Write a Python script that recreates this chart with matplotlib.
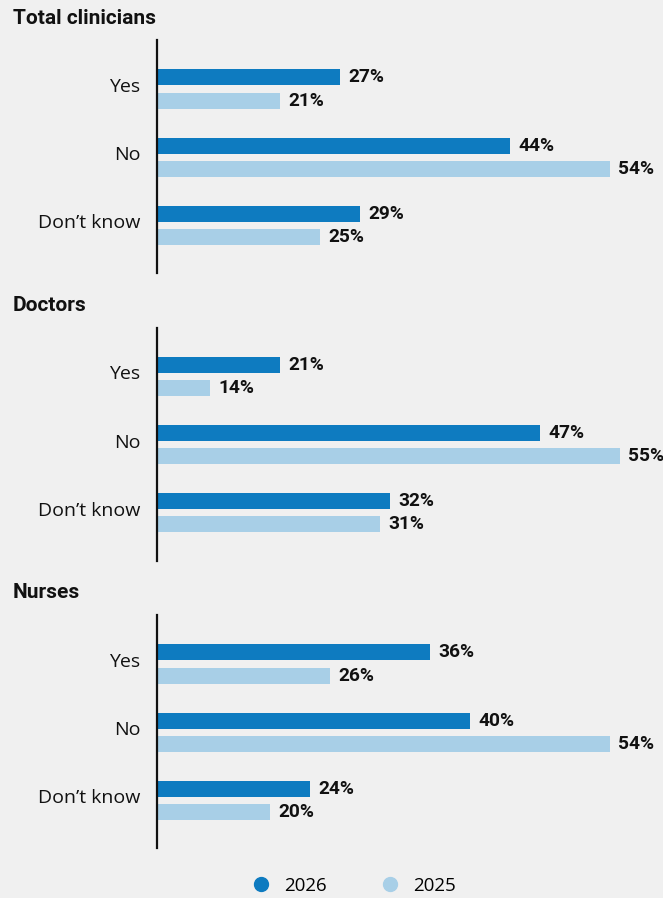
import matplotlib.pyplot as plt
from matplotlib.lines import Line2D

plt.rcParams['font.family'] = ['Open Sans', 'DejaVu Sans']

# data
categories = ['Yes', 'No', 'Don\u2019t know']
panels = ['Total clinicians', 'Doctors', 'Nurses']
vals_2026 = [[27, 44, 29], [21, 47, 32], [36, 40, 24]]
vals_2025 = [[21, 54, 25], [14, 55, 31], [26, 54, 20]]

dark = '#0e7bc0'
light = '#a8cfe7'
bg = '#f0f0f0'
bold_font = ['Roboto', 'DejaVu Sans']

W, H = 663, 898
fig = plt.figure(figsize=(W / 100, H / 100), dpi=100, facecolor=bg)

for i, name in enumerate(panels):
    top = 40 + 287.5 * i
    ax = fig.add_axes([157 / W, 1 - (top + 233) / H, (W - 157) / W, 233 / H])
    ax.set_facecolor(bg)
    ys = range(len(categories))
    b1 = ax.barh([y - 0.17 for y in ys], vals_2026[i], height=0.235, color=dark)
    b2 = ax.barh([y + 0.17 for y in ys], vals_2025[i], height=0.235, color=light)
    for bars in (b1, b2):
        for b in bars:
            w = b.get_width()
            ax.text(w + 0.8, b.get_y() + b.get_height() / 2, f'{w:.0f}%',
                    va='center', ha='left', fontsize=13.8, fontweight='bold',
                    family=bold_font, color='#111111', clip_on=False)
    ax.set_xlim(8.7, 59.3)
    ax.set_ylim(2.7, -0.72)
    ax.set_yticks([y - 0.06 for y in ys])
    ax.set_yticklabels(categories, fontsize=14, color='#111111')
    ax.tick_params(axis='y', length=0, pad=12)
    ax.set_xticks([])
    for s in ['top', 'right', 'bottom']:
        ax.spines[s].set_visible(False)
    ax.spines['left'].set_linewidth(1.6)
    ax.spines['left'].set_color('#111111')
    fig.text(13 / W, 1 - (top - 22) / H, name, fontsize=15, fontweight='bold',
             family=bold_font, va='center', ha='left', color='#111111')

handles = [Line2D([], [], marker='o', ls='', color=dark, markersize=10),
           Line2D([], [], marker='o', ls='', color=light, markersize=10)]
fig.legend(handles, ['2026', '2025'], loc='center', ncol=2, frameon=False,
           bbox_to_anchor=(349 / W, 1 - 886 / H), fontsize=13.5,
           handletextpad=0.23, columnspacing=2.4)

fig.savefig('out.png', dpi=100, facecolor=bg)
